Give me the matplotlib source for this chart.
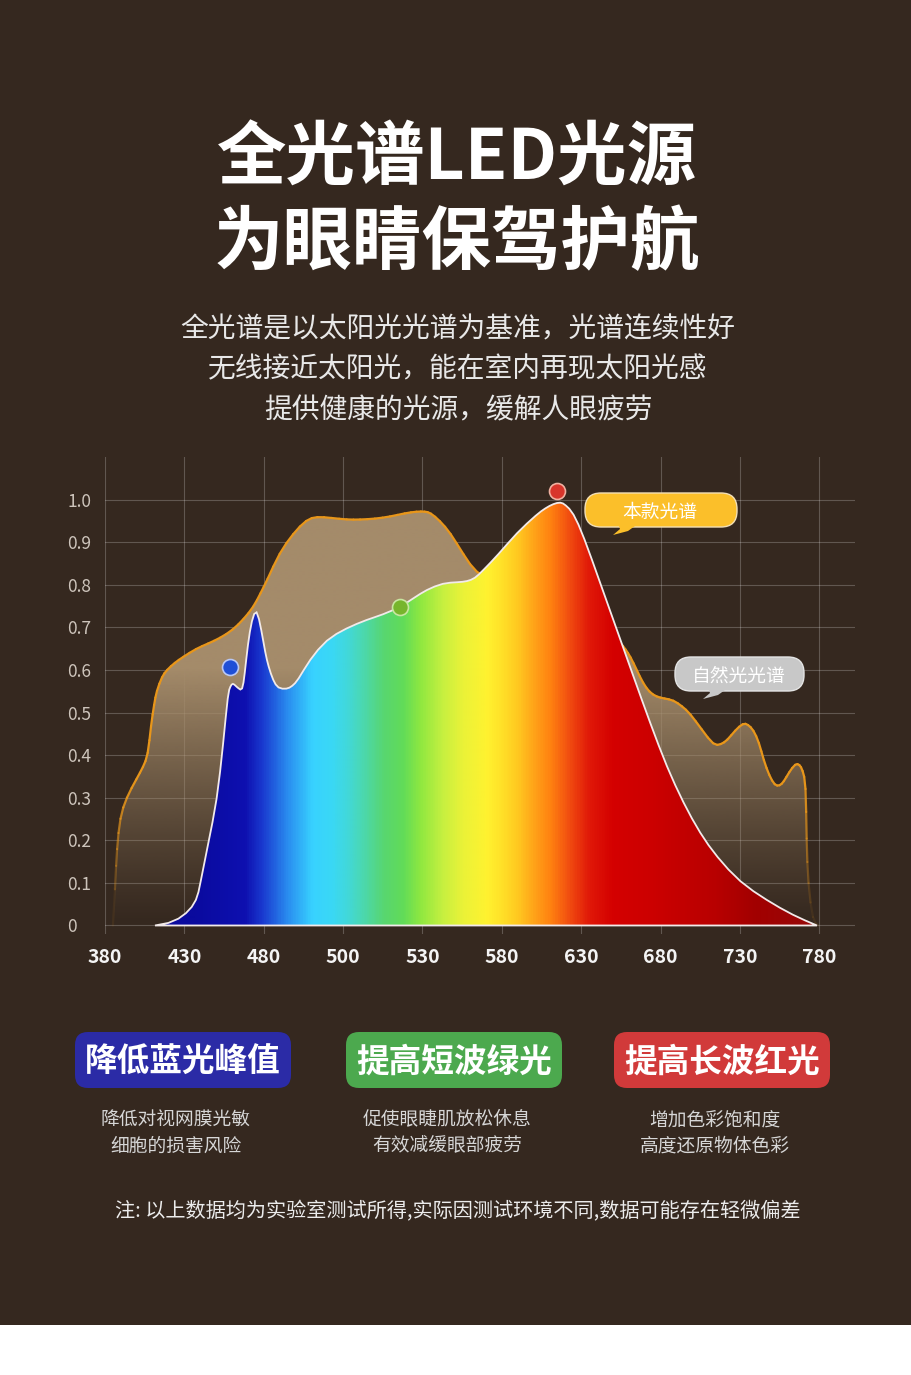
import numpy as np
import matplotlib
matplotlib.use("Agg")
from matplotlib import pyplot as plt
from matplotlib.patches import Polygon, FancyBboxPatch, Rectangle
from matplotlib.collections import LineCollection
from matplotlib.colors import LinearSegmentedColormap, to_rgb
from matplotlib.path import Path
from matplotlib.transforms import ScaledTranslation

plt.rcParams['font.family'] = ['Noto Sans CJK SC', 'DejaVu Sans']

# x tick categories (wavelength, nm) - equally spaced on the chart
wave_labels = ['380', '430', '480', '500', '530', '580', '630', '680', '730', '780']
y_ticks = [0, 0.1, 0.2, 0.3, 0.4, 0.5, 0.6, 0.7, 0.8, 0.9, 1.0]
y_labels = ['0', '0.1', '0.2', '0.3', '0.4', '0.5', '0.6', '0.7', '0.8', '0.9', '1.0']

# natural light spectrum, x in tick-index units
nat_x = [0.10, 0.13, 0.15, 0.19, 0.27, 0.40, 0.48, 0.54, 0.58, 0.62, 0.65, 0.72, 0.78, 0.88, 0.98,
         1.15, 1.30, 1.45, 1.61, 1.75, 1.87, 1.96, 2.04, 2.20, 2.37, 2.54, 2.67, 2.85, 3.05, 3.21,
         3.40, 3.59, 3.78, 3.93, 4.03, 4.10, 4.22, 4.35, 4.52, 4.68, 4.90, 5.30, 5.80, 6.20, 6.49,
         6.56, 6.62, 6.70, 6.78, 6.86, 6.95, 7.05, 7.16, 7.27, 7.37, 7.52, 7.67, 7.76, 7.84, 7.94,
         8.04, 8.10, 8.17, 8.24, 8.30, 8.37, 8.44, 8.50, 8.55, 8.62, 8.70, 8.75, 8.79, 8.83, 8.84,
         8.86, 8.92, 8.99]
nat_y = [0.0, 0.10, 0.18, 0.254, 0.30, 0.345, 0.372, 0.40, 0.47, 0.52, 0.55, 0.585, 0.60, 0.617, 0.63,
         0.65, 0.662, 0.675, 0.694, 0.72, 0.748, 0.78, 0.81, 0.875, 0.92, 0.953, 0.96, 0.957, 0.953, 0.953,
         0.955, 0.96, 0.968, 0.972, 0.972, 0.969, 0.95, 0.922, 0.87, 0.827, 0.81, 0.82, 0.78, 0.71, 0.665,
         0.648, 0.631, 0.60, 0.569, 0.548, 0.537, 0.533, 0.529, 0.515, 0.498, 0.46, 0.423, 0.425, 0.435, 0.458,
         0.475, 0.472, 0.459, 0.43, 0.388, 0.352, 0.329, 0.328, 0.337, 0.36, 0.38, 0.378, 0.365, 0.333, 0.20,
         0.098, 0.01, 0.0]

# full spectrum LED
led_x = [0.63, 0.82, 1.03, 1.155, 1.20, 1.30, 1.41, 1.49, 1.55, 1.58, 1.61, 1.65, 1.68, 1.73, 1.76,
         1.80, 1.85, 1.91, 1.97, 2.02, 2.06, 2.12, 2.18, 2.29, 2.36, 2.43, 2.58, 2.79, 3.04, 3.30,
         3.50, 3.72, 3.90, 4.05, 4.26, 4.45, 4.56, 4.66, 4.77, 4.95, 5.19, 5.44, 5.55, 5.65, 5.74,
         5.80, 5.90, 6.03, 6.24, 6.45, 6.66, 6.87, 7.08, 7.29, 7.50, 7.71, 8.00, 8.34, 8.67, 8.97]
led_y = [0.0, 0.004, 0.028, 0.059, 0.098, 0.192, 0.294, 0.428, 0.545, 0.562, 0.569, 0.562, 0.557, 0.551, 0.59,
         0.66, 0.718, 0.745, 0.694, 0.64, 0.608, 0.575, 0.557, 0.555, 0.562, 0.576, 0.624, 0.671, 0.698, 0.718,
         0.73, 0.748, 0.77, 0.788, 0.804, 0.806, 0.808, 0.815, 0.835, 0.87, 0.922, 0.965, 0.98, 0.99, 0.994,
         0.988, 0.969, 0.914, 0.804, 0.694, 0.584, 0.475, 0.372, 0.287, 0.216, 0.161, 0.102, 0.059, 0.024, 0.0]

# highlighted points
dot_x = [1.575, 3.72, 5.70]
dot_y = [0.607, 0.748, 1.02]
dot_face = ['#1f4fd6', '#77b52c', '#d8352b']
dot_edge = ['#b9c8f5', '#c8e6a0', '#f0b0a0']

# colour stops of the rainbow fill (x position, colour)
rainbow = [(1.1, '#0a0a9e'), (1.75, '#0e10b0'), (1.97, '#1a3ad0'), (2.29, '#2a8ef0'), (2.6, '#38d2ff'),
           (2.85, '#3ad8f5'), (3.05, '#42d8d8'), (3.25, '#4cd8ac'), (3.5, '#58d670'), (3.75, '#62dc58'),
           (3.97, '#90e840'), (4.26, '#c8f040'), (4.5, '#eaf238'), (4.8, '#fff230'), (5.0, '#ffe028'),
           (5.2, '#ffc820'), (5.42, '#ffa018'), (5.62, '#ff8010'), (5.86, '#f04a10'), (6.1, '#e01808'),
           (6.4, '#d40000'), (6.9, '#cc0000'), (7.7, '#b80000'), (8.2, '#a20000'), (9.0, '#960a0a')]

badge_titles = ['降低蓝光峰值', '提高短波绿光', '提高长波红光']
badge_colors = ['#2b2ba6', '#4ca94e', '#d13a3a']
badge_text = [['降低对视网膜光敏', '细胞的损害风险'],
              ['促使眼睫肌放松休息', '有效减缓眼部疲劳'],
              ['增加色彩饱和度', '高度还原物体色彩']]

bg = '#35281f'
W, H = 912, 1375


def curve_points(xs, ys):
    # let matplotlib draw a smooth quadratic curve through the read points,
    # then take its flattened outline
    pts = np.column_stack([xs, ys])
    verts = [pts[0]]
    codes = [Path.MOVETO]
    for i in range(1, len(pts) - 1):
        verts += [pts[i], (pts[i] + pts[i + 1]) / 2]
        codes += [Path.CURVE3, Path.CURVE3]
    verts.append(pts[-1])
    codes.append(Path.LINETO)
    return Path(verts, codes).to_polygons(closed_only=False)[0]


fig = plt.figure(figsize=(W / 100, H / 100), dpi=100)
fig.patch.set_facecolor(bg)


def fx(px):
    return px / W


def fy(py):
    return 1 - py / H


# ---- chart ----
ax = fig.add_axes([fx(105), fy(934), 750 / W, (934 - 457) / H])
ax.set_facecolor('none')
for s in ax.spines.values():
    s.set_visible(False)
ax.set_axisbelow(True)
ax.grid(True, color='#ffffff', alpha=0.22, lw=0.8)

# natural spectrum: tan fill fading into the background
nat_pts = curve_points(nat_x, nat_y)
nat_poly = Polygon(nat_pts, closed=True, facecolor='none', edgecolor='none')
ax.add_patch(nat_poly)
ramp = np.linspace(0, 1, 300)
rgba = np.zeros((300, 1, 4))
rgba[..., :3] = to_rgb('#a48b6a')
rgba[:, 0, 3] = np.clip(ramp / 0.6, 0, 1) ** 1.2
im = ax.imshow(rgba, extent=[0, 9.1, 0, 1.0], origin='lower', aspect='auto',
               interpolation='bilinear', zorder=2)
im.set_clip_path(nat_poly)

segs = np.stack([nat_pts[:-1], nat_pts[1:]], axis=1)
mid = (nat_pts[:-1, 1] + nat_pts[1:, 1]) / 2
seg_alpha = np.clip((mid - 0.02) / 0.32, 0.08, 1)
seg_cols = [(0.91, 0.59, 0.10, a) for a in seg_alpha]
ax.add_collection(LineCollection(segs, colors=seg_cols, linewidths=1.6, zorder=3,
                                 capstyle='round', joinstyle='round'))

# LED spectrum: rainbow fill
led_pts = curve_points(led_x, led_y)
led_poly = Polygon(led_pts, closed=True, facecolor='none',
                   edgecolor='#f2eaea', lw=1.3, zorder=5)
ax.add_patch(led_poly)
x0, x1 = rainbow[0][0], rainbow[-1][0]
cmap = LinearSegmentedColormap.from_list('led', [((p - x0) / (x1 - x0), c) for p, c in rainbow])
xs = np.linspace(0.6, 9.0, 1000)
im2 = ax.imshow(xs[None, :], extent=[0.6, 9.0, 0, 1.0], origin='lower', aspect='auto',
                cmap=cmap, vmin=x0, vmax=x1, interpolation='bilinear', zorder=4)
im2.set_clip_path(led_poly)

for i in range(len(dot_x)):
    ax.plot(dot_x[i], dot_y[i], 'o', ms=11.5, mfc=dot_face[i], mec=dot_edge[i], mew=1.2,
            zorder=7, clip_on=False)

ax.set_xlim(0, 9.45)
ax.set_ylim(-0.02, 1.1)
ax.set_xticks(range(len(wave_labels)))
ax.set_xticklabels(wave_labels, fontsize=14, color='#f4f4f4', fontweight='bold')
ax.set_yticks(y_ticks)
ax.set_yticklabels(y_labels, fontsize=12.5, color='#cdc4bb')
for lab in ax.get_yticklabels():
    lab.set_ha('left')
shift = ScaledTranslation(0.04, 0, fig.dpi_scale_trans)
for lab in ax.get_xticklabels():
    lab.set_transform(lab.get_transform() + shift)
ax.tick_params(axis='x', length=0, pad=10)
ax.tick_params(axis='y', length=0, pad=27)

# ---- overlay in pixel coordinates for text and boxes ----
ov = fig.add_axes([0, 0, 1, 1], zorder=10)
ov.set_xlim(0, W)
ov.set_ylim(H, 0)
ov.axis('off')

ov.add_patch(Rectangle((0, 1325), W, 50, facecolor='white', edgecolor='none'))

ov.text(457, 159, '全光谱LED光源', fontsize=50, fontweight='bold', color='white',
        ha='center', va='center')
ov.text(457, 244, '为眼睛保驾护航', fontsize=50, fontweight='bold', color='white',
        ha='center', va='center')
sub = ['全光谱是以太阳光光谱为基准，光谱连续性好',
       '无线接近太阳光，能在室内再现太阳光感',
       '提供健康的光源，缓解人眼疲劳']
for i, s in enumerate(sub):
    ov.text(458, 329 + i * 40.5, s, fontsize=20, color='#e8e8e8', ha='center', va='center')

# bubbles
ov.add_patch(FancyBboxPatch((585, 493), 152, 34, boxstyle='round,pad=0,rounding_size=16',
                            facecolor='#fbbf2a', edgecolor='#f3dfb5', lw=1))
ov.add_patch(Polygon([(619, 526), (635, 526), (628, 531), (613, 535), (620, 529)],
                     facecolor='#fbbf2a', edgecolor='none'))
ov.text(660, 512, '本款光谱', fontsize=13.5, color='white', ha='center', va='center')

ov.add_patch(FancyBboxPatch((675, 657), 129, 34, boxstyle='round,pad=0,rounding_size=16',
                            facecolor='#c8c8c8', edgecolor='#e4e4e4', lw=1))
ov.add_patch(Polygon([(709, 690), (725, 690), (718, 695), (703, 699), (710, 693)],
                     facecolor='#c8c8c8', edgecolor='none'))
ov.text(739, 676, '自然光光谱', fontsize=13.5, color='white', ha='center', va='center')

# badges
badge_left = [75, 346, 614]
desc_cx = [176, 447, 715]
for i in range(3):
    ov.add_patch(FancyBboxPatch((badge_left[i], 1032), 216, 56,
                                boxstyle='round,pad=0,rounding_size=13',
                                facecolor=badge_colors[i], edgecolor='none'))
    ov.text(badge_left[i] + 108, 1062, badge_titles[i], fontsize=23.5, fontweight='bold',
            color='white', ha='center', va='center')
    for j, t in enumerate(badge_text[i]):
        ov.text(desc_cx[i], 1120 + j * 26, t, fontsize=13.5, color='#d6d6d6',
                ha='center', va='center')

ov.text(458, 1212, '注: 以上数据均为实验室测试所得,实际因测试环境不同,数据可能存在轻微偏差',
        fontsize=14.5, color='#ececec', ha='center', va='center')

fig.savefig('out.png', dpi=100, facecolor=fig.get_facecolor())
